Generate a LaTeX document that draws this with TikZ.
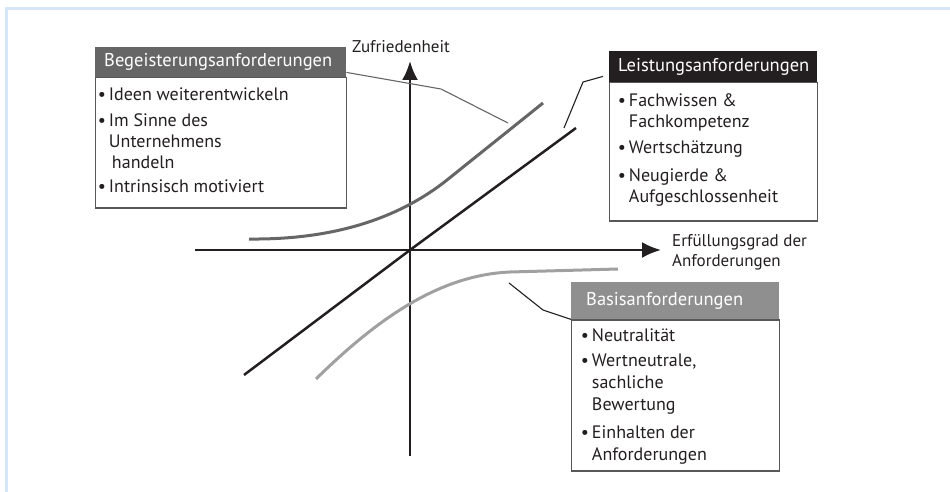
\documentclass[tikz,border=0pt]{standalone}
\usepackage{fontspec}
\setmainfont{PT Sans}
\usetikzlibrary{arrows.meta,positioning}

\definecolor{rahmen}{HTML}{D5E7F7}
\definecolor{dunkelgrau}{HTML}{666666}
\definecolor{mittelgrau}{HTML}{8F8F8F}
\definecolor{hellgrau}{HTML}{A0A0A0}
\definecolor{schwarz}{HTML}{231F20}

\newcommand{\bul}{\textbullet\hspace{3pt}}
\newcommand{\ein}{\hphantom{\textbullet\hspace{3pt}}}

\tikzstyle{head} = [rectangle, anchor=north west, text=white, align=left, inner xsep=9pt, inner ysep=0pt, font=\fontsize{18.5}{21}\selectfont]
\tikzstyle{body} = [rectangle, draw=schwarz!75, line width=1.1pt, fill=white, inner sep=0pt]
\tikzstyle{items} = [anchor=north west, align=left, inner sep=0pt, text=schwarz, font=\fontsize{18}{21}\selectfont]
\tikzstyle{axis} = [draw=schwarz, line width=2.5pt, -{Latex[length=19pt,width=16pt]}]
\tikzstyle{callout} = [draw, line width=1.1pt]
\tikzstyle{label} = [text=schwarz, align=left, inner sep=0pt, font=\fontsize{17}{20}\selectfont]

\begin{document}
\begin{tikzpicture}[x=1pt, y=-1pt]
\useasboundingbox (0,0) rectangle (950,492);

% frame
\draw[rahmen, line width=3pt] (6,492) -- (6,9) -- (950,9);

% axes
\coordinate (O) at (410,250);
\coordinate (yBot) at (410,456);
\coordinate (yTop) at (410,61);
\coordinate (xLeft) at (195,250);
\coordinate (xRight) at (661,250);
\path [axis] (yBot) -- (yTop);
\path [axis] (xLeft) -- (xRight);

\node [label, anchor=south] (yLabel) at (401,53) {Zufriedenheit};
\node [label, anchor=west] (xLabel) at (672,252) {Erfüllungsgrad der\\Anforderungen};

% the three curves
\draw [schwarz, line width=2.5pt] (244,375) -- (O) -- (576,128) coordinate (lEnd);
\draw [dunkelgrau, line width=3pt] (249,239) .. controls (340,240) and (403,215) .. (447,180) -- (543,103) coordinate (bEnd);
\draw [hellgrau, line width=3pt] (316,379) .. controls (378,318) and (440,275) .. (510,272) -- (618,269);

\coordinate (bTip) at (508,123);
\coordinate (lTip) at (564,128);
\coordinate (sTip) at (509,283);

% Begeisterungsanforderungen
\node [head, fill=dunkelgrau, text width=233pt, minimum height=30pt] (bHead) at (95,47) {Begeisterungsanforderungen};
\node [body, minimum width=251pt, minimum height=130pt, below=0pt of bHead] (bBody) {};
\node [items] (bItems) at ([shift={(3,10)}]bBody.north west) {\bul Ideen weiterentwickeln\\[5pt]
\bul Im Sinne des\\ \ein Unternehmens\\ \ein\,handeln\\[3pt]
\bul Intrinsisch motiviert};

% Leistungsanforderungen
\node [head, fill=schwarz, text width=190pt, minimum height=31pt] (lHead) at (609,51) {Leistungsanforderungen};
\node [body, minimum width=208pt, minimum height=138pt, below=0pt of lHead] (lBody) {};
\node [items] (lItems) at ([shift={(9,11)}]lBody.north west) {\bul Fachwissen \&\\ \ein Fachkompetenz\\[5pt]
\bul Wertschätzung\\[7pt]
\bul Neugierde \&\\ \ein Aufgeschlossenheit};

% Basisanforderungen
\node [head, fill=mittelgrau, text width=178pt, inner xsep=15pt, minimum height=37pt] (sHead) at (571,282) {Basisanforderungen};
\node [body, minimum width=208pt, minimum height=151pt, below=0pt of sHead] (sBody) {};
\node [items, font=\fontsize{18}{22}\selectfont] (sItems) at ([shift={(10,9)}]sBody.north west) {\bul Neutralität\\[3pt]
\bul Wertneutrale,\\ \ein sachliche\\ \ein Bewertung\\[6pt]
\bul Einhalten der\\ \ein Anforderungen};

% callouts
\path [callout, dunkelgrau] ([yshift=5pt]bHead.south east) -- (441,89) -- (bTip);
\path [callout, schwarz] ([xshift=-6pt,yshift=6pt]lHead.south west) -- (583,82) -- (lTip);
\path [callout, schwarz] (sTip) -- (543,310) -- (sHead.south west);

\end{tikzpicture}
\end{document}
